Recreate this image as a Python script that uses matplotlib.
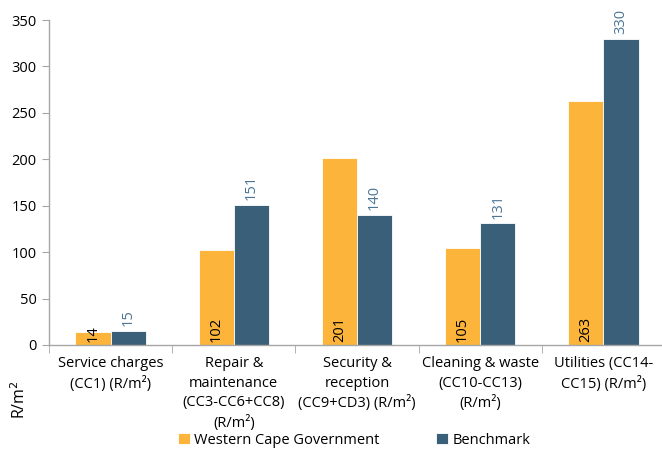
import matplotlib
matplotlib.use("Agg")
import matplotlib.pyplot as plt
import numpy as np

categories = [
    "Service charges\n(CC1) (R/m²)",
    "Repair &\nmaintenance\n(CC3-CC6+CC8)\n(R/m²)",
    "Security &\nreception\n(CC9+CD3) (R/m²)",
    "Cleaning & waste\n(CC10-CC13)\n(R/m²)",
    "Utilities (CC14-\nCC15) (R/m²)",
]
wcg = [14, 102, 201, 105, 263]
benchmark = [15, 151, 140, 131, 330]
series_names = ["Western Cape Government", "Benchmark"]
yticks = [0, 50, 100, 150, 200, 250, 300, 350]

c_wcg = "#FDB43B"
c_bm = "#3A6079"
c_bmlab = "#4A7596"
gray = "#A6A6A6"

plt.rcParams['font.family'] = ['Open Sans', 'DejaVu Sans']

fig = plt.figure(figsize=(6.62, 4.49), dpi=100)
ax = fig.add_axes([49/662, 1-345/449, 616/662, 325/449])

x = np.arange(len(categories))
w = 0.285
b1 = ax.bar(x - w/2, wcg, w, color=c_wcg, edgecolor="white", linewidth=0.6, label=series_names[0])
b2 = ax.bar(x + w/2, benchmark, w, color=c_bm, edgecolor="white", linewidth=0.6, label=series_names[1])

for xi, v in zip(x, wcg):
    ax.text(xi - w/2, 3, str(v), rotation=90, ha="center", va="bottom", fontsize=10.5, color="black")
for xi, v in zip(x, benchmark):
    ax.text(xi + w/2, v + 5, str(v), rotation=90, ha="center", va="bottom", fontsize=10.5, color=c_bmlab)

ax.set_xlim(-0.5, len(categories) - 0.5)
ax.set_ylim(0, 350)
ax.set_yticks(yticks)
ax.tick_params(axis="y", labelsize=10.5, length=5, color=gray, pad=4)
ax.set_xticks(x)
ax.set_xticklabels(categories, fontsize=10.5, linespacing=1.4, va="top")
ax.tick_params(axis="x", which="major", length=0, pad=8)
ax.set_xticks(np.arange(-0.5, len(categories) + 0.5, 1), minor=True)
ax.tick_params(axis="x", which="minor", length=6, color=gray)

for s in ["top", "right"]:
    ax.spines[s].set_visible(False)
for s in ["left", "bottom"]:
    ax.spines[s].set_color(gray)
    ax.spines[s].set_linewidth(1.0)

fig.text(20/662, 1-400/449, "R/m$^2$", rotation=90, ha="center", va="center", fontsize=11.5)

leg = fig.legend(handles=[b1, b2], labels=series_names, loc="center", bbox_to_anchor=(354/662, 1-440/449),
                 ncol=2, frameon=False, fontsize=10.5, handlelength=0.8, handleheight=0.8,
                 handletextpad=0.3, columnspacing=3.9, borderaxespad=0)

fig.savefig("out.png", dpi=100)
